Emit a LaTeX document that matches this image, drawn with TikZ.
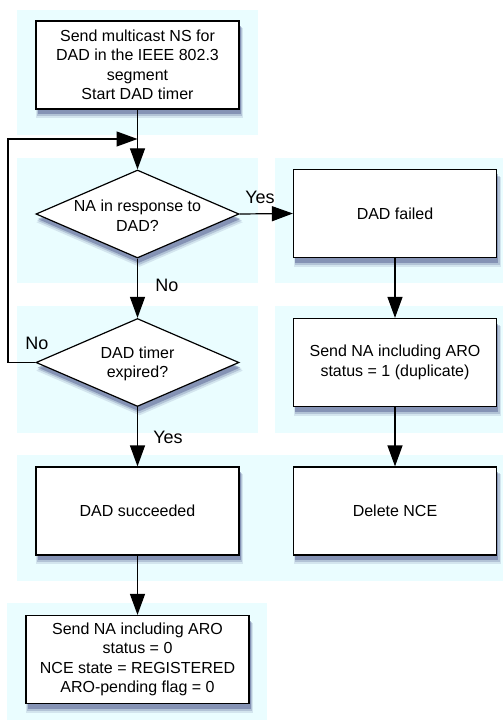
\documentclass[tikz,border=0pt]{standalone}
\usepackage{fontspec}
\setmainfont{Liberation Sans}
\usetikzlibrary{shapes.geometric,arrows.meta,shadows}
\definecolor{lanebg}{RGB}{234,253,255}
\definecolor{shadowc}{RGB}{50,60,120}
\begin{document}
\begin{tikzpicture}[x=1pt,y=-1pt,
  lane/.style={fill=lanebg,draw=none},
  myshadow/.style={
    general shadow={shadow xshift=2pt,shadow yshift=-8pt,opacity=0.12,fill=shadowc,shadow scale=1.02},
    general shadow={shadow xshift=2pt,shadow yshift=-6.5pt,opacity=0.2,fill=shadowc,shadow scale=1.01},
    general shadow={shadow xshift=1.5pt,shadow yshift=-5pt,opacity=0.35,fill=shadowc}},
  procbox/.style={draw=black,line width=1.2pt,fill=white,myshadow,minimum width=203pt,minimum height=88pt,inner sep=0pt,align=center,font=\fontsize{16}{19.5}\selectfont},
  decbox/.style={diamond,draw=black,line width=1.2pt,fill=white,myshadow,minimum width=203pt,minimum height=88pt,inner sep=0pt},
  dtext/.style={align=center,font=\fontsize{16}{19.5}\selectfont,inner sep=0pt},
  lbl/.style={font=\fontsize{18}{20}\selectfont,inner sep=0pt},
  flow/.style={line width=1.2pt,-{Triangle[width=15pt,length=21pt]}}]
\useasboundingbox (0,0) rectangle (503,722);
\fill[white] (0,0) rectangle (503,722);
% lanes
\fill[lane] (17,10) rectangle (258,135);
\fill[lane] (17,158) rectangle (258,283);
\fill[lane] (17,306) rectangle (258,433);
\fill[lane] (275,158) rectangle (503,283);
\fill[lane] (275,306) rectangle (503,433);
\fill[lane] (17,455) rectangle (503,581);
\fill[lane] (7,603) rectangle (267,720);
% nodes
\node[procbox] (start) at (137.5,65) {Send multicast NS for\\DAD in the IEEE 802.3\\segment\\Start DAD timer};
\node[decbox] (d1) at (137.5,214) {};
\node[dtext] (d1t) at (137.5,215.5) {NA in response to\\DAD?};
\node[decbox] (d2) at (137.5,362.5) {};
\node[dtext] (d2t) at (137.5,364) {DAD timer\\expired?};
\node[procbox] (fail) at (395,213.5) {DAD failed};
\node[procbox] (dup) at (395,362.5) {Send NA including ARO\\status = 1 (duplicate)};
\node[procbox] (succ) at (137.5,511) {DAD succeeded};
\node[procbox] (del) at (395,511) {Delete NCE};
\node[procbox,minimum width=223pt] (reg) at (137.5,659.5) {Send NA including ARO\\status = 0\\NCE state = REGISTERED\\ARO-pending flag = 0};
\coordinate (join) at (137.5,139);
\coordinate (loopb) at (8,362.5);
\coordinate (loopt) at (8,139);
% connectors
\draw[flow] (start.south) -- (d1.north);
\draw[flow] (d1.east) -- (fail.west);
\draw[flow] (d1.south) -- (d2.north);
\draw[flow] (d2.west) -- (loopb) -- (loopt) -- (join);
\draw[flow] (d2.south) -- (succ.north);
\draw[flow] (fail.south) -- (dup.north);
\draw[flow] (dup.south) -- (del.north);
\draw[flow] (succ.south) -- (reg.north);
% labels
\node[lbl] (lyes1) at (260,197) {Yes};
\node[lbl] (lno1) at (167,285) {No};
\node[lbl] (lno2) at (37,343) {No};
\node[lbl] (lyes2) at (168,437) {Yes};
\end{tikzpicture}
\end{document}
